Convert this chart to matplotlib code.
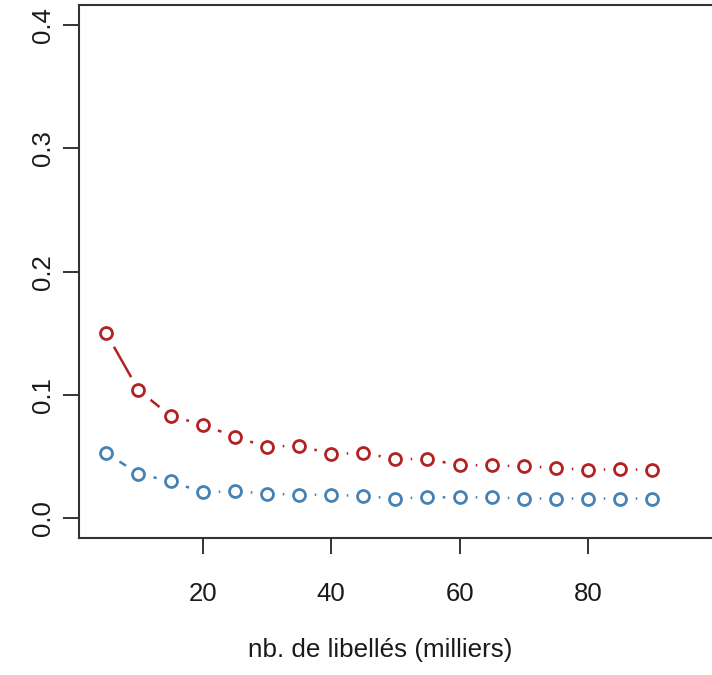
# Taux d'erreur selon le nombre de libellés (deux séries)

import matplotlib
matplotlib.use('Agg')
import matplotlib.pyplot as plt

# données
libelles = [5, 10, 15, 20, 25, 30, 35, 40, 45, 50, 55, 60, 65, 70, 75, 80, 85, 90]
serie_rouge = [0.150, 0.104, 0.083, 0.076, 0.066, 0.058, 0.059, 0.052, 0.053,
               0.048, 0.048, 0.043, 0.043, 0.042, 0.041, 0.039, 0.040, 0.039]
serie_bleue = [0.053, 0.036, 0.030, 0.021, 0.022, 0.020, 0.019, 0.019, 0.018,
               0.016, 0.017, 0.017, 0.017, 0.016, 0.016, 0.016, 0.016, 0.016]
x_ticks = [20, 40, 60, 80]
y_ticks = [0.0, 0.1, 0.2, 0.3, 0.4]
y_labels = ['0.0', '0.1', '0.2', '0.3', '0.4']
x_label = 'nb. de libellés (milliers)'

plt.rcParams['font.family'] = ['Liberation Sans', 'DejaVu Sans']

fig = plt.figure(figsize=(7.12, 6.75), dpi=100)
ax = fig.add_axes([0.111, 0.203, 0.889, 0.789])

series = [(serie_rouge, '#B22222'), (serie_bleue, '#4682B4')]

# lignes, puis disques blancs pour faire les trous (type="b" de R), puis cercles
for values, color in series:
    ax.plot(libelles, values, color=color, linewidth=1.8, zorder=2,
            solid_capstyle='butt')
for values, color in series:
    ax.plot(libelles, values, linestyle='none', marker='o', markersize=22,
            markerfacecolor='white', markeredgecolor='none', zorder=3)
for values, color in series:
    ax.plot(libelles, values, linestyle='none', marker='o', markersize=8.6,
            markerfacecolor='none', markeredgecolor=color,
            markeredgewidth=2.0, zorder=4)

ax.set_xlim(0.75, 99.3)
ax.set_ylim(-0.016, 0.416)

ax.set_xticks(x_ticks)
ax.set_xticklabels([str(t) for t in x_ticks])
ax.set_yticks(y_ticks)
ax.set_yticklabels(y_labels, rotation=90, va='center')

ax.tick_params(axis='both', direction='out', length=11.5, width=1.4,
               color='#333333', labelsize=18.5, labelcolor='#1a1a1a')
ax.tick_params(axis='x', pad=20)
ax.tick_params(axis='y', pad=6)

for side in ['left', 'bottom', 'top']:
    ax.spines[side].set_linewidth(1.5)
    ax.spines[side].set_color('#333333')
ax.spines['right'].set_visible(False)

ax.set_xlabel(x_label, fontsize=18.7, color='#1a1a1a')
ax.xaxis.set_label_coords(0.4755, -0.188)

fig.savefig('out.png', dpi=100)
